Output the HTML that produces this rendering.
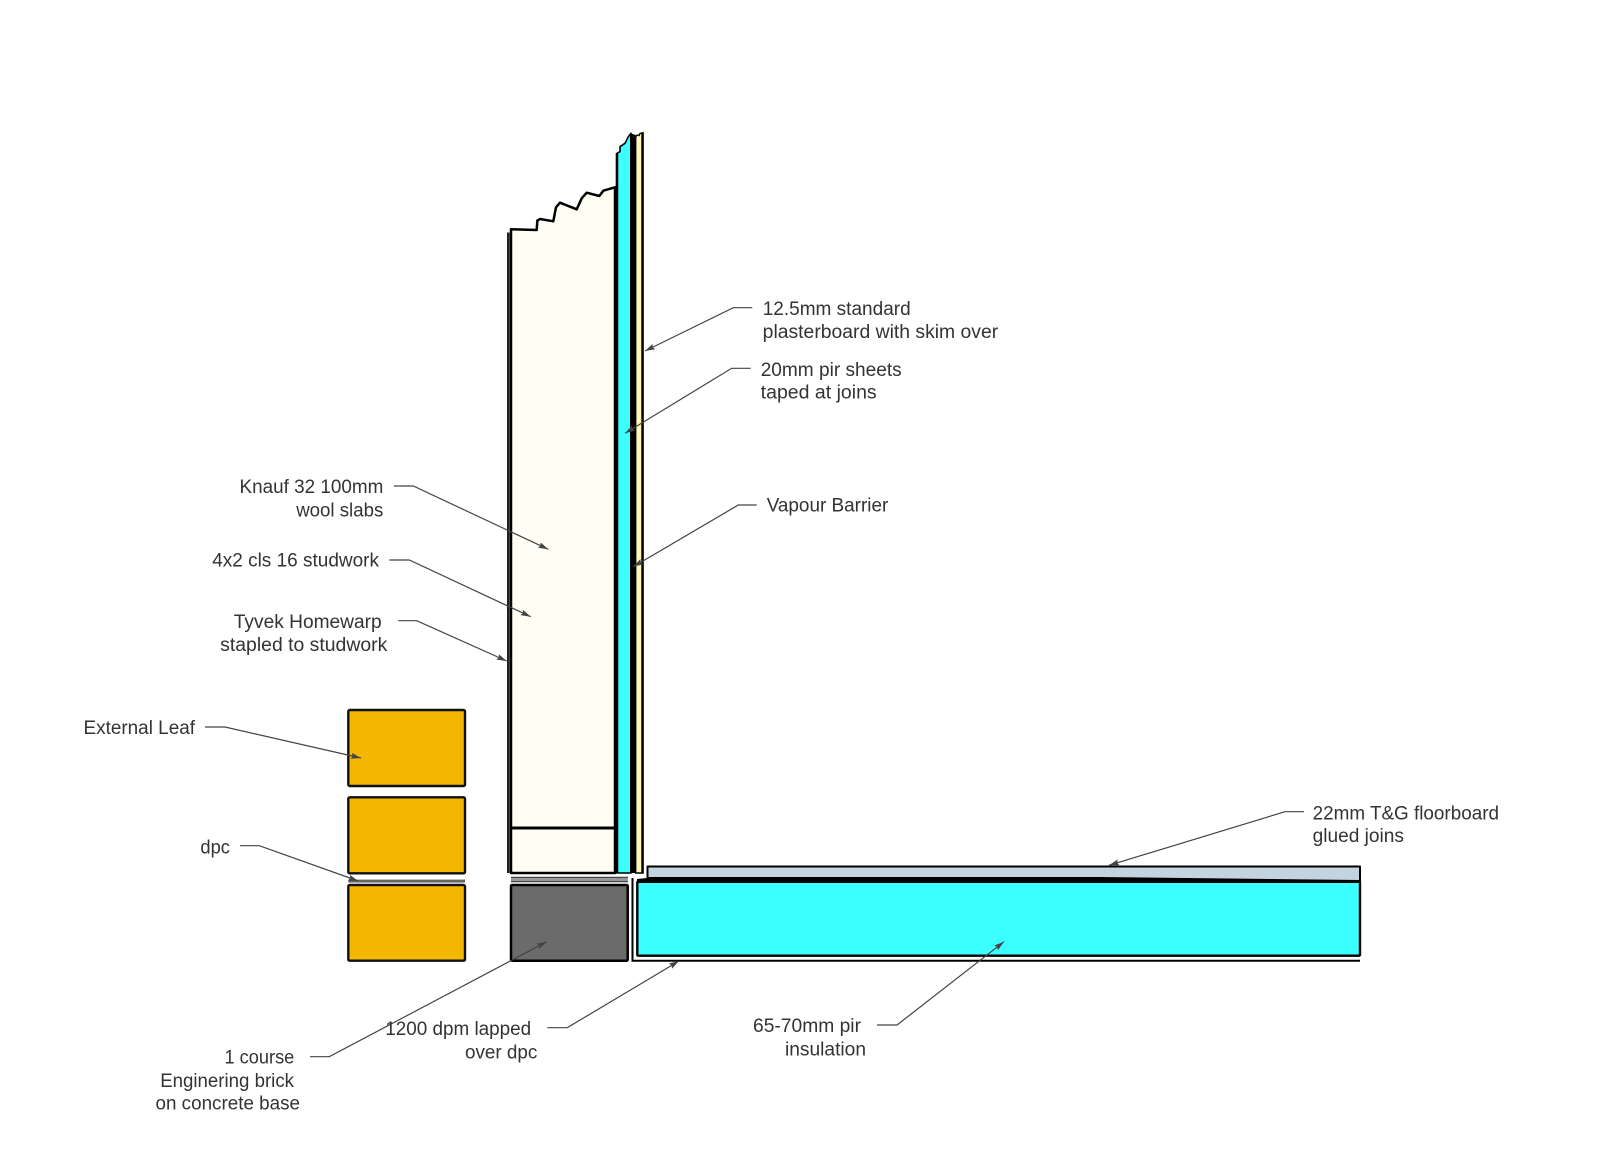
<!DOCTYPE html>
<html>
<head>
<meta charset="utf-8">
<style>
html,body{margin:0;padding:0;background:#fff}
svg{display:block}
text{font-family:"Liberation Sans",sans-serif;font-size:19px;fill:#333}
.l{fill:none;stroke:#444;stroke-width:1.2;marker-end:url(#a)}
</style>
</head>
<body>
<svg width="1600" height="1151" viewBox="0 0 1600 1151" xmlns="http://www.w3.org/2000/svg">
<defs>
<marker id="a" markerUnits="userSpaceOnUse" markerWidth="11" markerHeight="8" refX="10" refY="3" orient="auto">
<path d="M0,0 L10,3 L0,6 L1.5,3 Z" fill="#444"/>
</marker>
</defs>
<rect width="1600" height="1151" fill="#fff"/>

<!-- wall: tyvek -->
<path d="M508.3,232.5 V873" stroke="#222" stroke-width="2.6" fill="none"/>
<!-- wool -->
<path d="M511,229.3 L536.7,230 L537.3,220.7 L540,219 L553.3,221.3 L556,207.3 L560,202.7 L576.7,209.3 L581.7,198.3 L586.7,192.7 L599.3,196 L603.3,190.7 L615,187.3 V873 H511 Z" fill="#fffef5" stroke="#000" stroke-width="2.5" stroke-linejoin="round"/>
<path d="M511,828 H615" stroke="#000" stroke-width="3" fill="none"/>
<!-- pir -->
<path d="M617,153.3 L620,151.7 L620,146.7 L625,143.3 L628.3,136.7 L631,133.3 V873 H617 Z" fill="#3cffff" stroke="#000" stroke-width="1.6" stroke-linejoin="round"/>
<path d="M617,153 V873" stroke="#000" stroke-width="2.6"/>
<!-- vapour barrier -->
<path d="M630,133 L635.7,135 V873 H630 Z" fill="#000"/>
<!-- plasterboard -->
<path d="M635.7,137 L637,135 L639,135.5 L640,133.5 L643,132.7 V873 H635.7 Z" fill="#fff7b8" stroke="#000" stroke-width="1.4"/>
<path d="M642.5,132.7 V873" stroke="#000" stroke-width="2.4"/>

<!-- bricks -->
<rect x="348.3" y="710" width="116.7" height="76" rx="1.5" fill="#f3b700" stroke="#111" stroke-width="2.4"/>
<rect x="348.3" y="797.3" width="116.7" height="76" rx="1.5" fill="#f3b700" stroke="#111" stroke-width="2.4"/>
<rect x="348.3" y="885" width="116.7" height="75.7" rx="1.5" fill="#f3b700" stroke="#111" stroke-width="2.4"/>
<!-- dpc outer -->
<rect x="348.3" y="879.6" width="116.7" height="3" fill="#666"/>

<!-- dpc inner + dpm -->
<rect x="511" y="877" width="117" height="5" fill="#999"/>
<path d="M511,877.4 H628" stroke="#444" stroke-width="1.2"/>
<path d="M511,881.6 H628" stroke="#444" stroke-width="1.2"/>
<rect x="511" y="885" width="116.7" height="75.7" rx="1" fill="#6b6b6b" stroke="#000" stroke-width="2.5"/>
<path d="M632.5,878 V960.7 H1360" fill="none" stroke="#000" stroke-width="2"/>

<!-- floor insulation -->
<rect x="637.3" y="881.5" width="722.7" height="74.2" rx="1" fill="#3cffff" stroke="#000" stroke-width="2.4"/>
<!-- floorboard -->
<path d="M647.5,878 V866.5 H1360 V881 L1100,878 Z" fill="#c3d3e0" stroke="#000" stroke-width="2" stroke-linejoin="round"/>
<path d="M647,878 H1090 L1360,881 V883 H637 V879 Z" fill="#000"/>

<!-- leaders -->
<polyline class="l" points="752.3,307.7 733.3,307.7 645,351"/>
<polyline class="l" points="750.7,368.3 731.7,368.3 625,433.3"/>
<polyline class="l" points="756.7,505 738.3,505 633.3,566.7"/>
<polyline class="l" points="394,486 413.3,486 548.3,549.3"/>
<polyline class="l" points="389.3,560 409.3,560 530.7,616.7"/>
<polyline class="l" points="398.3,620.7 416.7,620.7 506.7,661"/>
<polyline class="l" points="205,727 225,727 361,758"/>
<polyline class="l" points="240,845.7 259.3,845.7 358.3,881"/>
<polyline class="l" points="310,1056.7 329.3,1056.7 546.7,941.7"/>
<polyline class="l" points="547.3,1027.7 567.3,1027.7 679,961"/>
<polyline class="l" points="1304,811.7 1285,811.7 1109,865.3"/>
<polyline class="l" points="877,1025 897,1025 1004,941.7"/>

<!-- labels -->
<text x="762.7" y="315" textLength="148" lengthAdjust="spacingAndGlyphs">12.5mm standard</text>
<text x="762.7" y="338" textLength="235.5" lengthAdjust="spacingAndGlyphs">plasterboard with skim over</text>
<text x="760.7" y="376" textLength="141" lengthAdjust="spacingAndGlyphs">20mm pir sheets</text>
<text x="760.7" y="398.3" textLength="116" lengthAdjust="spacingAndGlyphs">taped at joins</text>
<text x="766.7" y="511.7" textLength="121.6" lengthAdjust="spacingAndGlyphs">Vapour Barrier</text>
<text x="239.5" y="493.2" textLength="143.8" lengthAdjust="spacingAndGlyphs">Knauf 32 100mm</text>
<text x="296.2" y="516.7" textLength="87.1" lengthAdjust="spacingAndGlyphs">wool slabs</text>
<text x="212.2" y="566.5" textLength="166.8" lengthAdjust="spacingAndGlyphs">4x2 cls 16 studwork</text>
<text x="233.8" y="628" textLength="147.9" lengthAdjust="spacingAndGlyphs">Tyvek Homewarp</text>
<text x="220.2" y="651" textLength="167.1" lengthAdjust="spacingAndGlyphs">stapled to studwork</text>
<text x="83.5" y="734.2" textLength="111.5" lengthAdjust="spacingAndGlyphs">External Leaf</text>
<text x="200.4" y="853.3" textLength="29.6" lengthAdjust="spacingAndGlyphs">dpc</text>
<text x="224.5" y="1063.5" textLength="69.8" lengthAdjust="spacingAndGlyphs">1 course</text>
<text x="160.2" y="1087" textLength="133.8" lengthAdjust="spacingAndGlyphs">Enginering brick</text>
<text x="155.5" y="1109.5" textLength="144.5" lengthAdjust="spacingAndGlyphs">on concrete base</text>
<text x="385.2" y="1035.2" textLength="146" lengthAdjust="spacingAndGlyphs">1200 dpm lapped</text>
<text x="465" y="1058.5" textLength="72.3" lengthAdjust="spacingAndGlyphs">over dpc</text>
<text x="1312.6" y="819.5" textLength="186.4" lengthAdjust="spacingAndGlyphs">22mm T&amp;G floorboard</text>
<text x="1312.6" y="842" textLength="91.4" lengthAdjust="spacingAndGlyphs">glued joins</text>
<text x="753" y="1032.2" textLength="108" lengthAdjust="spacingAndGlyphs">65-70mm pir</text>
<text x="785" y="1055.5" textLength="81" lengthAdjust="spacingAndGlyphs">insulation</text>
</svg>
</body>
</html>
